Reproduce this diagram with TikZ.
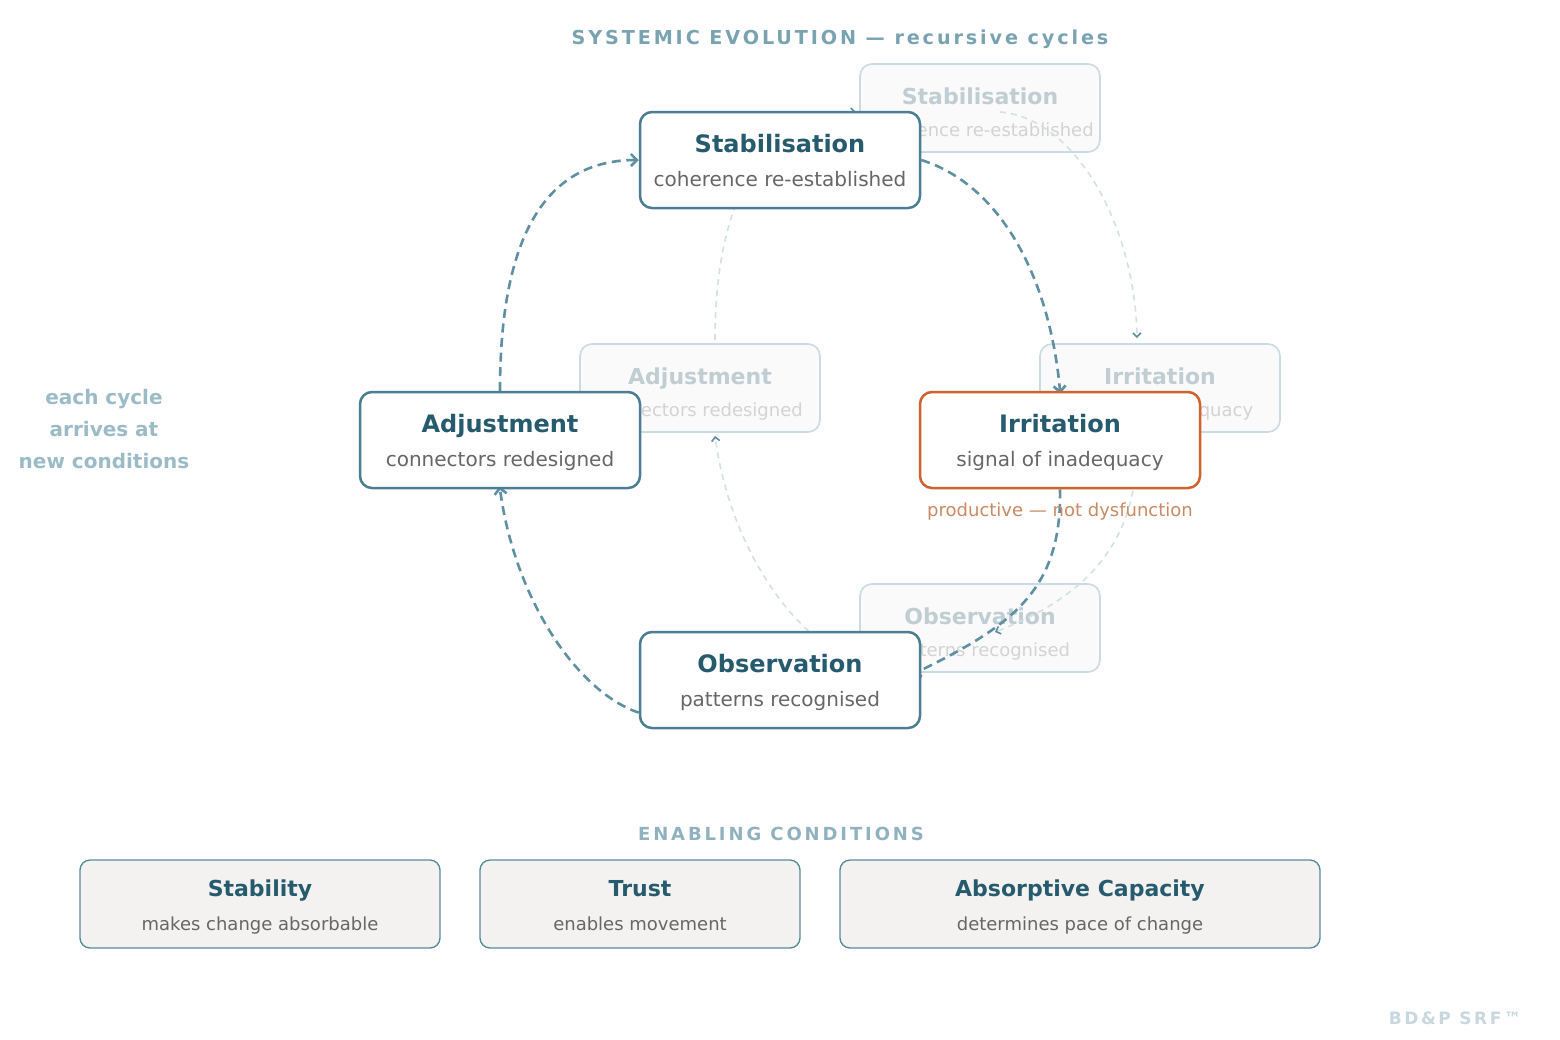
\documentclass[tikz,border=0pt]{standalone}
\usepackage{fontspec}
\setmainfont{DejaVu Sans}
\newfontfamily\trackedfont{DejaVu Sans}[LetterSpace=15]
\newfontfamily\widetrackedfont{DejaVu Sans}[LetterSpace=16]
\usetikzlibrary{arrows.meta,calc}

\definecolor{tealdark}{HTML}{265B6E}
\definecolor{cardline}{HTML}{4A7F93}
\definecolor{flowline}{HTML}{5F90A2}
\definecolor{subgrey}{HTML}{666666}
\definecolor{irrorange}{HTML}{D2622D}
\definecolor{noteorange}{HTML}{C98A63}
\definecolor{headblue}{HTML}{7AA3B1}
\definecolor{softblue}{HTML}{90B2BE}
\definecolor{sideblue}{HTML}{9BBCC6}
\definecolor{ghostline}{HTML}{CBDBE2}
\definecolor{ghostfill}{HTML}{FAFAFA}
\definecolor{ghosttext}{HTML}{C0CDD2}
\definecolor{ghostsub}{HTML}{D3D3D3}
\definecolor{ghostflow}{HTML}{D3E1E3}
\definecolor{ghosttip}{HTML}{5D8C9C}
\definecolor{condfill}{HTML}{F4F2F0}
\definecolor{condline}{HTML}{5A8CA0}
\definecolor{brandgrey}{HTML}{C8D8DE}

\pgfdeclarelayer{ghost}
\pgfdeclarelayer{links}
\pgfsetlayers{ghost,links,main}

\begin{document}
\begin{tikzpicture}[x=0.5pt, y=-0.5pt,
    card/.style={draw=cardline, line width=1.25pt, fill=white, rounded corners=6pt,
      minimum width=140pt, minimum height=48pt, inner sep=0pt},
    ghostcard/.style={draw=ghostline, line width=0.8pt, fill=ghostfill, rounded corners=6pt,
      minimum width=120pt, minimum height=44pt, inner sep=0pt},
    condcard/.style={draw=condline, line width=0.7pt, fill=condfill, rounded corners=5pt,
      minimum height=44pt, inner sep=0pt},
    cardtitle/.style={anchor=base, text=tealdark, font=\bfseries\fontsize{12}{14}\selectfont},
    cardsub/.style={anchor=base, text=subgrey, font=\fontsize{10}{12}\selectfont},
    gtitle/.style={anchor=base, text=ghosttext, font=\bfseries\fontsize{11}{13}\selectfont},
    gsub/.style={anchor=base, text=ghostsub, font=\fontsize{9}{11}\selectfont},
    condtitle/.style={anchor=base, text=tealdark, font=\bfseries\fontsize{11}{13}\selectfont},
    condsub/.style={anchor=base, text=subgrey, font=\fontsize{9}{11}\selectfont},
    flow/.style={draw=flowline, line width=1.3pt, dash pattern=on 4.5pt off 2.8pt,
      -{Straight Barb[length=3pt,width=6pt]}},
    gflow/.style={draw=ghostflow, line width=0.8pt, dash pattern=on 3pt off 2.5pt,
      -{Straight Barb[length=2pt,width=4pt,color=ghosttip]}},
  ]
  \useasboundingbox (0,0) rectangle (1560,1040);

  % heading
  \node[anchor=base, text=headblue, font=\trackedfont\bfseries\fontsize{9.6}{11}\selectfont] (head) at (840,44)
    {SYSTEMIC EVOLUTION — recursive cycles};

  % main cycle
  \foreach \id/\x/\y/\ttl/\sub in {stab/780/160/Stabilisation/coherence re-established,
      adj/500/440/Adjustment/connectors redesigned,
      obs/780/680/Observation/patterns recognised}{
    \node[card] (\id) at (\x,\y) {};
    \node[cardtitle] at ($(\id)+(0,-8)$) {\ttl};
    \node[cardsub] at ($(\id)+(0,26)$) {\sub};
  }
  \node[card, draw=irrorange] (irr) at (1060,440) {};
  \node[cardtitle] at ($(irr)+(0,-8)$) {Irritation};
  \node[cardsub] at ($(irr)+(0,26)$) {signal of inadequacy};
  \node[anchor=base, text=noteorange, font=\fontsize{9}{11}\selectfont] (note) at (1060,516)
    {productive — not dysfunction};

  % previous cycle, faded
  \begin{pgfonlayer}{ghost}
    \foreach \id/\x/\y/\ttl/\sub in {gstab/980/108/Stabilisation/coherence re-established,
        gadj/700/388/Adjustment/connectors redesigned,
        girr/1160/388/Irritation/signal of inadequacy,
        gobs/980/628/Observation/patterns recognised}{
      \node[ghostcard] (\id) at (\x,\y) {};
      \node[gsub] at ($(\id)+(0,28)$) {\sub};
      \node[gtitle] at ($(\id)+(0,-4)$) {\ttl};
    }
    \coordinate (ga1) at (715,340);  \coordinate (gb1) at (856,112);
    \coordinate (ga2) at (1000,112); \coordinate (gb2) at (1137,338);
    \coordinate (ga3) at (1137,436); \coordinate (gb3) at (995,632);
    \coordinate (ga4) at (855,660);  \coordinate (gb4) at (715,436);
    \draw[gflow] (ga1) .. controls (715,190) and (770,112) .. (gb1);
    \draw[gflow] (ga2) .. controls (1075,118) and (1135,225) .. (gb2);
    \draw[gflow] (ga3) .. controls (1140,540) and (1090,595) .. (gb3);
    \draw[gflow] (ga4) .. controls (795,640) and (730,548) .. (gb4);
  \end{pgfonlayer}

  % cycle arrows
  \begin{pgfonlayer}{links}
    \draw[flow] (adj.north) .. controls +(0,-155) and +(-93,0) .. (stab.west);
    \draw[flow, shorten >=-1.5pt] (stab.east) .. controls +(80,25) and +(-10,-112) .. (irr.north);
    \draw[flow, shorten >=-5pt] (irr.south) .. controls +(2,102) and +(90,-44) .. (obs.4);
    \draw[flow, shorten >=-1.5pt] (obs.193) .. controls +(-60,-20) and +(15,112) .. (adj.south);
  \end{pgfonlayer}

  % side note
  \node[anchor=base, text=sideblue, font=\bfseries\fontsize{10}{12}\selectfont] (side1) at (104,404) {each cycle};
  \node[anchor=base, text=sideblue, font=\bfseries\fontsize{10}{12}\selectfont] (side2) at (104,436) {arrives at};
  \node[anchor=base, text=sideblue, font=\bfseries\fontsize{10}{12}\selectfont] (side3) at (104,468) {new conditions};

  % enabling conditions
  \node[anchor=base, text=softblue, font=\widetrackedfont\bfseries\fontsize{9}{11}\selectfont] (enab) at (781,840)
    {ENABLING CONDITIONS};
  \foreach \id/\x/\w/\ttl/\sub in {stability/260/180/Stability/makes change absorbable,
      trust/640/160/Trust/enables movement,
      absorb/1080/240/Absorptive Capacity/determines pace of change}{
    \node[condcard, minimum width=\w pt] (\id) at (\x,904) {};
    \node[condtitle] at ($(\id)+(0,-8)$) {\ttl};
    \node[condsub] at ($(\id)+(0,26)$) {\sub};
  }

  % mark
  \node[anchor=base, text=brandgrey, font=\trackedfont\bfseries\fontsize{8.5}{10}\selectfont] (brand) at (1455,1024)
    {BD\&P SRF™};
\end{tikzpicture}
\end{document}
